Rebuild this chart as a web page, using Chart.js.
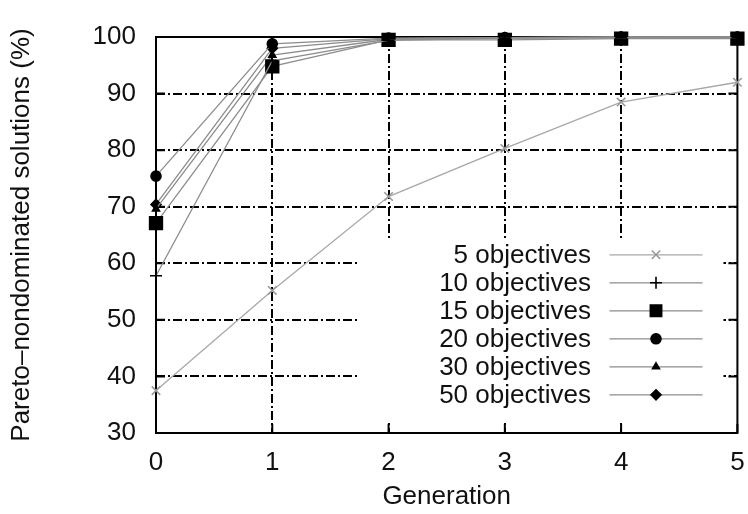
<!DOCTYPE html>
<html>
<head>
<meta charset="utf-8">
<script src="https://cdn.jsdelivr.net/npm/chart.js@4.4.1/dist/chart.umd.min.js"></script>
<style>
  html, body { margin: 0; padding: 0; background: #fff; }
  #wrap { width: 748px; height: 514px; }
</style>
</head>
<body>
<div id="wrap"><canvas id="chart" width="748" height="514"></canvas></div>
<script>
// generaciones y porcentajes
const generations = [0, 1, 2, 3, 4, 5];
const yTicks = [30, 40, 50, 60, 70, 80, 90, 100];

const seriesNames = ["5 objectives", "10 objectives", "15 objectives", "20 objectives", "30 objectives", "50 objectives"];
const obj5  = [37.5, 55.2, 71.8, 80.3, 88.5, 92.0];
const obj10 = [57.8, 95.8, 99.4, 99.8, 99.9, 99.9];
const obj15 = [67.1, 94.8, 99.5, 99.5, 99.7, 99.7];
const obj20 = [75.4, 98.8, 99.8, 99.9, 100, 100];
const obj30 = [69.6, 96.8, 99.6, 99.8, 99.9, 100];
const obj50 = [70.4, 98.0, 99.7, 99.9, 100, 100];

const FONT = "'Liberation Sans', Arial, sans-serif";
const FSIZE = 26;
const DASH = [9, 3, 2, 3];

const markers = [
  { style: "crossRot", radius: 6, color: "#9a9a9a", line: "#a8a8a8" },
  { style: "cross", radius: 6, color: "#000", line: "#8c8c8c" },
  { style: "rect", radius: 9, color: "#000", line: "#8c8c8c" },
  { style: "circle", radius: 5, color: "#000", line: "#8c8c8c" },
  { style: "triangle", radius: 4, color: "#000", line: "#8c8c8c" },
  { style: "rectRot", radius: 5, color: "#000", line: "#8c8c8c" }
];

const allValues = [obj5, obj10, obj15, obj20, obj30, obj50];

const datasets = allValues.map((vals, i) => ({
  label: seriesNames[i],
  data: vals.map((v, j) => ({ x: generations[j], y: v })),
  borderColor: markers[i].line,
  borderWidth: 1.3,
  pointStyle: markers[i].style,
  pointRadius: markers[i].radius,
  pointBackgroundColor: markers[i].color,
  pointBorderColor: markers[i].color,
  pointBorderWidth: 1.6,
  tension: 0,
  fill: false,
  clip: false
}));

// cuadro blanco de la leyenda, marco y marcas interiores
const framePlugin = {
  id: "frame",
  beforeDatasetsDraw(chart) {
    const { ctx, chartArea: a, scales } = chart;
    const x = scales.x, y = scales.y;
    ctx.save();
    // fondo de la leyenda (tapa la rejilla)
    const lx0 = x.getPixelForValue(1.73), lx1 = x.getPixelForValue(4.88);
    const ly0 = y.getPixelForValue(64.2), ly1 = y.getPixelForValue(32.2);
    ctx.fillStyle = "#fff";
    ctx.fillRect(lx0, ly0, lx1 - lx0, ly1 - ly0);

    // marcas interiores
    ctx.strokeStyle = "#000";
    ctx.lineWidth = 2;
    ctx.beginPath();
    yTicks.forEach(v => {
      const py = y.getPixelForValue(v);
      ctx.moveTo(a.left, py); ctx.lineTo(a.left + 9, py);
      ctx.moveTo(a.right, py); ctx.lineTo(a.right - 9, py);
    });
    generations.forEach(g => {
      const px = x.getPixelForValue(g);
      ctx.moveTo(px, a.bottom); ctx.lineTo(px, a.bottom - 9);
      ctx.moveTo(px, a.top); ctx.lineTo(px, a.top + 9);
    });
    ctx.stroke();

    // marco
    ctx.strokeRect(a.left, a.top, a.right - a.left, a.bottom - a.top);
    ctx.restore();
  },
  afterDatasetsDraw(chart) {
    const { ctx, scales } = chart;
    const x = scales.x;
    const textRight = x.getPixelForValue(3.74);
    const lineX0 = x.getPixelForValue(3.9), lineX1 = x.getPixelForValue(4.7);
    const markX = x.getPixelForValue(4.3);
    const top = scales.y.getPixelForValue(61.5);
    ctx.save();
    ctx.font = FSIZE + "px " + FONT;
    ctx.textAlign = "right";
    ctx.textBaseline = "middle";
    seriesNames.forEach((name, i) => {
      const py = top + i * 28;
      ctx.fillStyle = "#111";
      ctx.fillText(name, textRight, py + 1);
      ctx.strokeStyle = markers[i].line;
      ctx.lineWidth = 1.3;
      ctx.beginPath();
      ctx.moveTo(lineX0, py); ctx.lineTo(lineX1, py);
      ctx.stroke();
      ctx.fillStyle = markers[i].color;
      ctx.strokeStyle = markers[i].color;
      ctx.lineWidth = 1.6;
      Chart.helpers.drawPoint(ctx, {
        pointStyle: markers[i].style,
        radius: markers[i].style === "rect" ? 8 : markers[i].radius,
        rotation: 0,
        borderWidth: 1.6
      }, markX, py);
    });
    ctx.restore();
  }
};

const ctx = document.getElementById("chart").getContext("2d");

new Chart(ctx, {
  type: "line",
  data: { datasets: datasets },
  plugins: [framePlugin],
  options: {
    responsive: false,
    animation: false,
    layout: { padding: { top: 37, right: 8, left: 0, bottom: 0 } },
    plugins: {
      legend: { display: false },
      tooltip: { enabled: false }
    },
    elements: { point: { hoverRadius: 0 } },
    scales: {
      x: {
        type: "linear",
        min: 0,
        max: 5,
        afterFit: (s) => { s.height = 81; s.paddingLeft = 0; s.paddingRight = 0; },
        ticks: {
          stepSize: 1,
          color: "#111",
          padding: 14,
          font: { family: FONT, size: FSIZE }
        },
        grid: {
          color: (c) => (c.tick && (c.tick.value === 0 || c.tick.value === 5)) ? "rgba(0,0,0,0)" : "#000",
          lineWidth: 2,
          drawTicks: false
        },
        border: { display: false, dash: DASH },
        title: {
          display: true,
          text: "Generation",
          color: "#111",
          font: { family: FONT, size: FSIZE },
          padding: { top: 0, bottom: 2 }
        }
      },
      y: {
        min: 30,
        max: 100,
        afterFit: (s) => { s.width = 156; s.paddingTop = 0; s.paddingBottom = 0; },
        ticks: {
          stepSize: 10,
          color: "#111",
          padding: 20,
          font: { family: FONT, size: FSIZE }
        },
        grid: {
          color: (c) => (c.tick && (c.tick.value === 30 || c.tick.value === 100)) ? "rgba(0,0,0,0)" : "#000",
          lineWidth: 2,
          drawTicks: false
        },
        border: { display: false, dash: DASH },
        title: {
          display: true,
          text: "Pareto\u2013nondominated solutions (%)",
          color: "#111",
          font: { family: FONT, size: FSIZE },
          padding: { top: 6, bottom: 0 }
        }
      }
    }
  }
});
</script>
</body>
</html>
